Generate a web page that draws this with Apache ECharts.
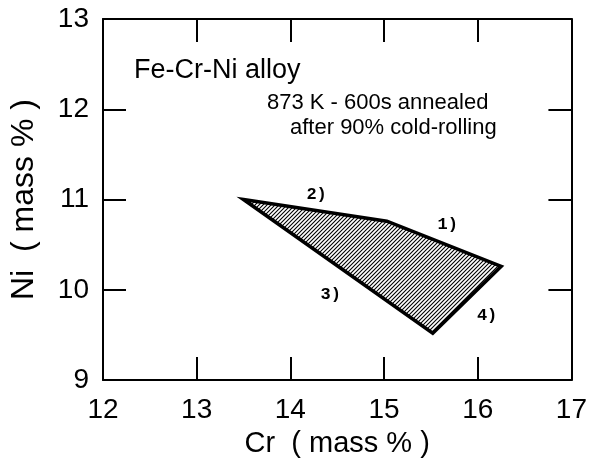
<!DOCTYPE html>
<html>
<head>
<meta charset="utf-8">
<script src="https://cdn.jsdelivr.net/npm/echarts@6/dist/echarts.min.js"></script>
<style>
  html, body { margin: 0; padding: 0; background: #fff; }
  #chart { width: 590px; height: 463px; }
</style>
</head>
<body>
<div id="chart"></div>
<script>
// region boundary (Cr, Ni in mass %)
const regionCr = [13.5, 15.03, 16.25, 15.52];
const regionNi = [11.0, 10.76, 10.26, 9.52];

// side labels of the region
const sideNames = ['1)', '2)', '3)', '4)'];
const sideCr = [15.68, 14.28, 14.43, 16.1];
const sideNi = [10.72, 11.05, 9.95, 9.71];

const crTicks = [12, 13, 14, 15, 16, 17];
const niTicks = [9, 10, 11, 12, 13];

// diagonal hatch pattern
function hatch() {
  let c = document.createElement('canvas');
  c.width = 4;
  c.height = 4;
  let ctx = c.getContext('2d');
  ctx.fillStyle = '#fff';
  ctx.fillRect(0, 0, 4, 4);
  ctx.strokeStyle = '#000';
  ctx.lineWidth = 1.1;
  ctx.beginPath();
  ctx.moveTo(-1, 5); ctx.lineTo(5, -1);
  ctx.moveTo(-1, 1); ctx.lineTo(1, -1);
  ctx.moveTo(3, 5); ctx.lineTo(5, 3);
  ctx.stroke();
  return c;
}

const font = '"Liberation Sans", Arial, sans-serif';
const black = '#000';

const axisCommon = {
  type: 'value',
  axisLine: { show: true, lineStyle: { color: black, width: 2 } },
  axisTick: { show: true, inside: true, length: 23, lineStyle: { color: black, width: 2 } },
  splitLine: { show: false },
  interval: 1
};

let chart = echarts.init(document.getElementById('chart'));
chart.setOption({
  animation: false,
  backgroundColor: '#fff',
  grid: { left: 96, right: 17, top: 19, bottom: 81 },
  xAxis: [
    Object.assign({}, axisCommon, {
      min: crTicks[0], max: crTicks[crTicks.length - 1], position: 'bottom',
      name: 'Cr  ( mass % )', nameLocation: 'middle', nameGap: 46,
      nameTextStyle: { fontFamily: font, fontSize: 29, color: black },
      axisLabel: { fontFamily: font, fontSize: 28, color: black, margin: 16 }
    }),
    Object.assign({}, axisCommon, {
      min: crTicks[0], max: crTicks[crTicks.length - 1], position: 'top',
      axisLabel: { show: false }
    })
  ],
  yAxis: [
    Object.assign({}, axisCommon, {
      min: niTicks[0], max: niTicks[niTicks.length - 1], position: 'left',
      name: 'Ni  ( mass % )', nameLocation: 'middle', nameGap: 63,
      nameTextStyle: { fontFamily: font, fontSize: 32, color: black },
      axisLabel: { fontFamily: font, fontSize: 28, color: black, margin: 14 }
    }),
    Object.assign({}, axisCommon, {
      min: niTicks[0], max: niTicks[niTicks.length - 1], position: 'right',
      axisLabel: { show: false }
    })
  ],
  graphic: [
    { type: 'text', left: 134, top: 57, style: { text: 'Fe-Cr-Ni alloy', font: '27px ' + font, fill: black } },
    { type: 'text', left: 267, top: 92, style: { text: '873 K - 600s annealed', font: '22px ' + font, fill: black } },
    { type: 'text', left: 290, top: 117, style: { text: 'after 90% cold-rolling', font: '22px ' + font, fill: black } }
  ],
  series: [
    {
      type: 'custom',
      coordinateSystem: 'cartesian2d',
      data: [0],
      renderItem: function (params, api) {
        let pts = regionCr.map((x, i) => api.coord([x, regionNi[i]]));
        return {
          type: 'polygon',
          shape: { points: pts },
          style: {
            fill: { image: hatch(), repeat: 'repeat' },
            stroke: black,
            lineWidth: 3.5,
            lineJoin: 'miter'
          }
        };
      }
    },
    {
      type: 'custom',
      coordinateSystem: 'cartesian2d',
      data: sideNames.map((n, i) => [sideCr[i], sideNi[i], n]),
      renderItem: function (params, api) {
        let p = api.coord([api.value(0), api.value(1)]);
        return {
          type: 'text',
          x: p[0], y: p[1],
          style: {
            text: sideNames[params.dataIndex],
            font: 'bold 17px "Liberation Mono", "DejaVu Sans Mono", monospace',
            fill: black,
            align: 'center',
            verticalAlign: 'middle'
          }
        };
      }
    }
  ]
});
</script>
</body>
</html>
